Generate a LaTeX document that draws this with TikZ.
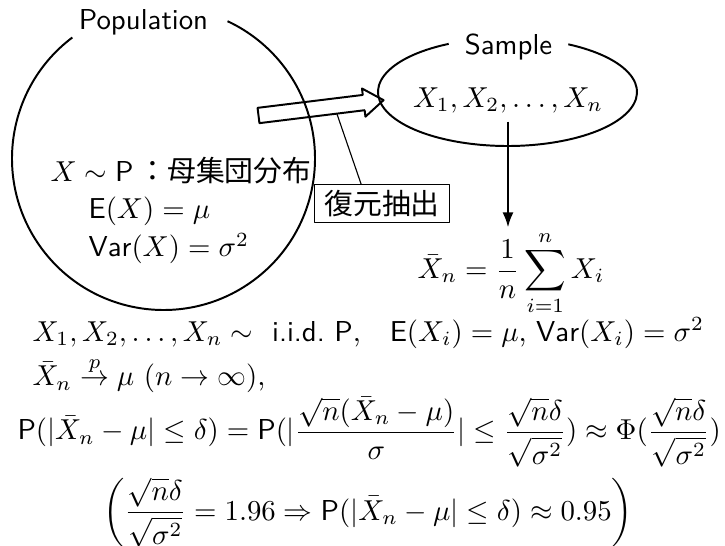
\RequirePackage{fix-cm}
\documentclass[tikz,border=0pt]{standalone}
\usepackage{amsmath,amssymb}
\usepackage{fontspec}
\newfontfamily\jpfont{Noto Sans CJK JP}
\usetikzlibrary{arrows.meta,calc}

\begin{document}
\fontsize{10.25pt}{12.3pt}\selectfont
\begin{tikzpicture}[x=0.0125cm,y=0.0125cm, line join=round, >=Latex,
    rim/.style={line width=0.7pt},
    tag/.style={font=\sffamily, inner sep=0pt, anchor=base},
    row/.style={inner sep=0pt, anchor=base west}]
    \useasboundingbox (0,0) rectangle (725,-546);
    % population
    \coordinate (pop) at (163.5,-158.5);
    \draw[rim] ($(pop)+(127:151.5)$) arc[start angle=127, end angle=425, radius=151.5];
    \node[tag] (poplbl) at (143.5,-30) {Population};
    \node[row] (law) at (50,-182) {$X \sim \mathsf{P}$\,{\jpfont ：母集団分布}};
    \node[row] (popmean) at (88,-219) {$\mathsf{E}(X) = \mu$};
    \node[row] (popvar) at (88,-257) {$\mathsf{Var}(X) = \sigma^2$};
    % sample
    \coordinate (smpc) at (507.5,-92);
    \draw[rim] ($(smpc)+(117:129.5 and 54)$) arc[start angle=117, end angle=422, x radius=129.5, y radius=54];
    \node[tag] (smplbl) at (508.5,-55) {Sample};
    \node[inner sep=3pt] (smp) at (508,-100) {$X_1, X_2, \dots, X_n$};
    % drawing arrow
    \begin{scope}[shift={(258.5,-115.5)}, rotate=7]
        \draw[rim] (0,-7.7) -- (106,-7.7) -- (106,-14.2) -- (126,0) -- (106,14.2) -- (106,7.7) -- (0,7.7) -- cycle;
        \coordinate (grip) at (78,-7.7);
    \end{scope}
    \node[draw, thin, font=\jpfont, inner xsep=3.5pt, inner ysep=2pt] (pickbox) at (382,-203.5) {復元抽出};
    \draw[thin] (pickbox.137) -- (grip);
    % sample mean
    \node[inner sep=1pt] (xbar) at (511,-273) {$\displaystyle \bar{X}_n = \frac{1}{n}\sum_{i=1}^{n} X_i$};
    \draw[line width=0.7pt,-{Latex[length=5.3pt,width=3.9pt]}] (smp.south) -- (smp.south |- xbar.north);
    % formulas
    \node[row] (iid) at (32,-341) {$X_1, X_2, \dots, X_n \sim$ \ \textsf{i.i.d.}\ $\mathsf{P}$,\quad $\mathsf{E}(X_i)=\mu$, $\mathsf{Var}(X_i)=\sigma^2$};
    \node[row] (conv) at (32,-386) {$\bar{X}_n \overset{p}{\to} \mu\ (n\to\infty)$,};
    \node[row] (prob) at (17,-440) {$\displaystyle \mathsf{P}(|\bar X_n-\mu|\le\delta) = \mathsf{P}(|\frac{\sqrt{n}(\bar X_n-\mu)}{\sigma}|\le\frac{\sqrt{n}\delta}{\sqrt{\sigma^2}})\approx\Phi(\frac{\sqrt{n}\delta}{\sqrt{\sigma^2}})$};
    \node[anchor=base, inner sep=0pt] (rule) at (368,-520) {$\displaystyle\left(\frac{\sqrt{n}\delta}{\sqrt{\sigma^2}} = 1.96 \Rightarrow \mathsf{P}(|\bar X_n-\mu|\le\delta)\approx 0.95\right)$};
\end{tikzpicture}
\end{document}
